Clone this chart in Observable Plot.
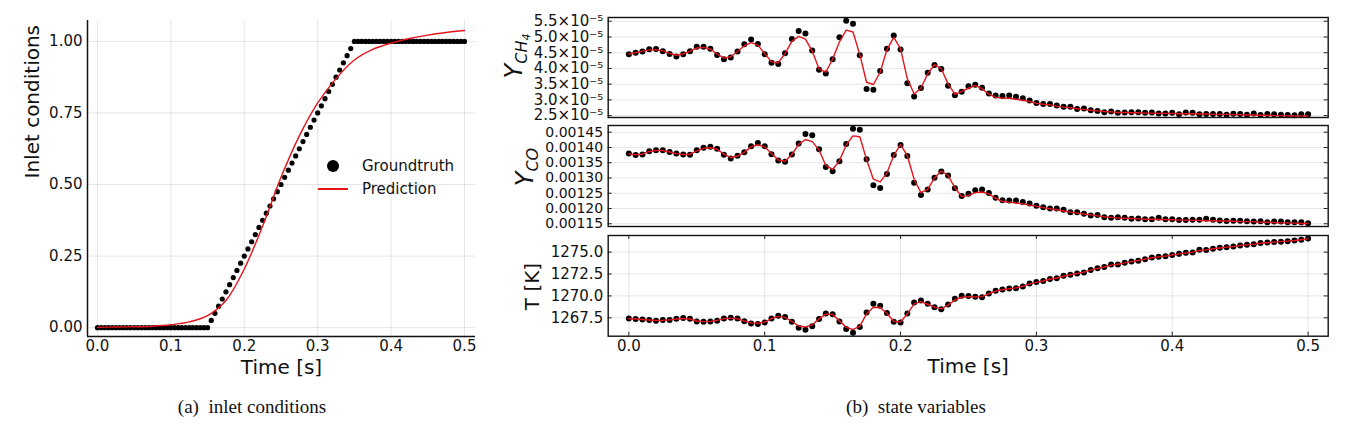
<!DOCTYPE html>
<html>
<head>
<meta charset="utf-8">
<script src="https://cdn.jsdelivr.net/npm/d3@7"></script>
<script src="https://cdn.jsdelivr.net/npm/@observablehq/plot@0.6"></script>
<style>
  html, body { margin: 0; padding: 0; background: #fff; }
  #wrap { position: relative; width: 1347px; height: 427px; overflow: hidden; background: #fff; font-family: "DejaVu Sans", sans-serif; }
  #wrap svg { position: absolute; overflow: visible; }
  .cap { position: absolute; font-family: "Liberation Serif", "Times New Roman", serif; font-size: 19px; color: #111; transform: translate(-50%, -50%); white-space: nowrap; }
  .leg { position: absolute; font-family: "DejaVu Sans", sans-serif; font-size: 15px; color: #111; }
</style>
</head>
<body>
<div id="wrap"></div>
<script>
// ---------- DATA ----------
// sample times [s]
const time = [0,0.005,0.01,0.015,0.02,0.025,0.03,0.035,0.04,0.045,0.05,0.055,0.06,0.065,0.07,0.075,0.08,0.085,0.09,0.095,
  0.1,0.105,0.11,0.115,0.12,0.125,0.13,0.135,0.14,0.145,0.15,0.155,0.16,0.165,0.17,0.175,0.18,0.185,0.19,0.195,
  0.2,0.205,0.21,0.215,0.22,0.225,0.23,0.235,0.24,0.245,0.25,0.255,0.26,0.265,0.27,0.275,0.28,0.285,0.29,0.295,
  0.3,0.305,0.31,0.315,0.32,0.325,0.33,0.335,0.34,0.345,0.35,0.355,0.36,0.365,0.37,0.375,0.38,0.385,0.39,0.395,
  0.4,0.405,0.41,0.415,0.42,0.425,0.43,0.435,0.44,0.445,0.45,0.455,0.46,0.465,0.47,0.475,0.48,0.485,0.49,0.495,0.5];

// (a) inlet conditions – groundtruth
const inletTruth = [0,0,0,0,0,0,0,0,0,0,0,0,0,0,0,0,0,0,0,0,0,0,0,0,0,0,0,0,0,0,0,
  0.025,0.05,0.075,0.1,0.125,0.15,0.175,0.2,0.225,0.25,0.275,0.3,0.325,0.35,0.375,0.4,0.425,0.45,0.475,0.5,
  0.525,0.55,0.575,0.6,0.625,0.65,0.675,0.7,0.725,0.75,0.775,0.8,0.825,0.85,0.875,0.9,0.925,0.95,0.975,
  1,1,1,1,1,1,1,1,1,1,1,1,1,1,1,1,1,1,1,1,1,1,1,1,1,1,1,1,1,1,1];
// (a) inlet conditions – prediction
const inletPredTime = [0,0.025,0.05,0.075,0.1,0.125,0.15,0.175,0.2,0.225,0.25,0.275,0.3,0.325,0.35,0.375,0.4,0.425,0.45,0.475,0.5];
const inletPred = [0.001,0.002,0.003,0.005,0.01,0.02,0.042,0.095,0.205,0.355,0.525,0.67,0.785,0.87,0.935,0.972,0.994,1.01,1.022,1.031,1.038];

// (b) Y_CH4 (units of 1e-5)
const ch4Truth = [4.45,4.50,4.54,4.61,4.62,4.55,4.46,4.38,4.45,4.55,4.69,4.69,4.63,4.43,4.29,4.35,4.54,4.77,4.92,4.78,
  4.45,4.18,4.14,4.48,4.94,5.19,5.11,4.57,3.96,3.84,4.29,4.99,5.52,5.42,4.42,3.35,3.32,3.92,4.63,5.05,
  4.60,3.53,3.11,3.38,3.86,4.11,3.98,3.45,3.15,3.26,3.43,3.48,3.39,3.20,3.14,3.12,3.14,3.10,3.05,2.98,
  2.90,2.87,2.87,2.82,2.78,2.78,2.71,2.73,2.67,2.65,2.61,2.63,2.59,2.60,2.61,2.61,2.59,2.60,2.57,2.57,
  2.59,2.54,2.60,2.59,2.54,2.55,2.55,2.55,2.53,2.56,2.55,2.53,2.57,2.52,2.55,2.54,2.53,2.52,2.51,2.54,2.54];
const ch4Pred = [4.46,4.50,4.55,4.59,4.60,4.56,4.48,4.42,4.46,4.55,4.65,4.67,4.62,4.46,4.33,4.37,4.54,4.72,4.82,4.74,
  4.47,4.21,4.18,4.47,4.86,5.02,4.93,4.55,3.99,3.88,4.30,4.84,5.22,5.16,4.44,3.56,3.49,3.88,4.60,4.99,
  4.63,3.67,3.19,3.37,3.83,4.12,3.99,3.51,3.18,3.27,3.37,3.46,3.35,3.18,3.08,3.06,3.05,3.02,2.99,2.95,
  2.89,2.86,2.84,2.80,2.77,2.75,2.72,2.70,2.67,2.65,2.63,2.62,2.60,2.60,2.59,2.59,2.58,2.58,2.57,2.57,
  2.57,2.56,2.56,2.56,2.55,2.55,2.54,2.54,2.54,2.53,2.53,2.52,2.52,2.51,2.51,2.50,2.50,2.49,2.49,2.49,2.49];

// (b) Y_CO (units of 1e-3)
const coTruth = [1.380,1.375,1.377,1.388,1.391,1.391,1.385,1.380,1.377,1.376,1.391,1.399,1.402,1.396,1.376,1.364,1.373,1.384,1.404,1.415,
  1.404,1.378,1.357,1.353,1.377,1.413,1.444,1.440,1.394,1.336,1.322,1.355,1.411,1.461,1.458,1.361,1.276,1.267,1.313,1.375,
  1.408,1.372,1.284,1.244,1.262,1.301,1.321,1.308,1.266,1.241,1.248,1.260,1.262,1.251,1.235,1.227,1.226,1.226,1.221,1.216,
  1.209,1.204,1.200,1.200,1.196,1.188,1.188,1.183,1.177,1.179,1.171,1.170,1.171,1.170,1.166,1.167,1.165,1.165,1.170,1.165,
  1.165,1.162,1.162,1.163,1.163,1.166,1.163,1.161,1.159,1.160,1.160,1.158,1.157,1.158,1.155,1.157,1.157,1.155,1.155,1.155,1.152];
const coPred = [1.379,1.376,1.378,1.387,1.390,1.390,1.385,1.380,1.377,1.377,1.389,1.397,1.399,1.394,1.378,1.367,1.372,1.384,1.402,1.409,
  1.402,1.380,1.359,1.355,1.377,1.410,1.426,1.419,1.392,1.341,1.328,1.356,1.408,1.438,1.435,1.360,1.296,1.287,1.317,1.374,
  1.409,1.373,1.296,1.252,1.263,1.300,1.323,1.308,1.268,1.239,1.243,1.252,1.254,1.248,1.233,1.223,1.221,1.218,1.215,1.211,
  1.207,1.203,1.199,1.196,1.192,1.188,1.185,1.182,1.179,1.176,1.173,1.171,1.169,1.168,1.167,1.166,1.165,1.165,1.164,1.164,
  1.163,1.162,1.162,1.161,1.161,1.160,1.160,1.159,1.159,1.158,1.157,1.157,1.156,1.155,1.155,1.154,1.153,1.153,1.152,1.151,1.151];

// (b) T [K]
const tempTruth = [1267.43,1267.35,1267.31,1267.24,1267.16,1267.24,1267.24,1267.39,1267.47,1267.39,1267.09,1267.05,1267.09,1267.16,1267.43,1267.50,1267.43,1267.12,1266.86,1266.78,
  1266.97,1267.43,1267.73,1267.58,1267.05,1266.36,1266.13,1266.55,1267.35,1268.00,1267.92,1267.09,1266.21,1265.79,1266.44,1268.11,1269.10,1268.87,1268.04,1267.05,
  1266.97,1268.00,1269.25,1269.48,1269.10,1268.72,1268.49,1269.03,1269.67,1270.01,1269.98,1269.90,1269.86,1270.28,1270.59,1270.74,1270.85,1270.89,1271.08,1271.42,
  1271.58,1271.69,1271.92,1272.03,1272.30,1272.41,1272.56,1272.68,1272.95,1273.17,1273.29,1273.59,1273.59,1273.78,1273.93,1274.01,1274.20,1274.39,1274.47,1274.54,
  1274.66,1274.81,1274.92,1274.96,1275.27,1275.23,1275.38,1275.49,1275.57,1275.65,1275.76,1275.84,1275.91,1276.03,1276.10,1276.16,1276.20,1276.24,1276.32,1276.42,1276.56];
const tempPred = [1267.40,1267.36,1267.31,1267.25,1267.20,1267.22,1267.26,1267.36,1267.42,1267.36,1267.14,1267.06,1267.09,1267.20,1267.40,1267.46,1267.38,1267.14,1266.92,1266.88,
  1267.02,1267.42,1267.66,1267.55,1267.08,1266.56,1266.45,1266.70,1267.38,1267.92,1267.88,1267.15,1266.42,1266.15,1266.55,1267.95,1268.70,1268.68,1268.00,1267.10,
  1267.02,1267.95,1269.10,1269.35,1269.05,1268.72,1268.52,1268.95,1269.55,1269.85,1269.92,1269.88,1269.92,1270.25,1270.55,1270.70,1270.82,1270.92,1271.10,1271.38,
  1271.55,1271.70,1271.90,1272.05,1272.25,1272.42,1272.56,1272.72,1272.94,1273.14,1273.30,1273.52,1273.62,1273.78,1273.92,1274.04,1274.20,1274.36,1274.46,1274.55,
  1274.67,1274.80,1274.90,1275.00,1275.18,1275.26,1275.38,1275.48,1275.57,1275.65,1275.75,1275.83,1275.91,1276.01,1276.08,1276.14,1276.20,1276.26,1276.33,1276.42,1276.52];

// tick values
const timeTicks = [0, 0.1, 0.2, 0.3, 0.4, 0.5];
const inletTicks = [0, 0.25, 0.5, 0.75, 1.0];
const ch4Ticks = [2.5, 3.0, 3.5, 4.0, 4.5, 5.0, 5.5];          // ×1e-5
const coTicks = [0.00115, 0.00120, 0.00125, 0.00130, 0.00135, 0.00140, 0.00145];
const tempTicks = [1267.5, 1270.0, 1272.5, 1275.0];

// ---------- STYLE ----------
const RED = "#e3141c";
const GRID = {stroke: "#000", strokeOpacity: 0.1, strokeWidth: 1};
const baseStyle = {fontFamily: "DejaVu Sans, sans-serif", fontSize: "15px", background: "transparent", color: "#111", overflow: "visible"};
const wrap = document.getElementById("wrap");

function place(svg, left, top) {
  svg.style.left = left + "px";
  svg.style.top = top + "px";
  wrap.appendChild(svg);
  return svg;
}

// ---------- (a) inlet conditions ----------
const inletRows = time.map((t, i) => ({t, v: inletTruth[i]}));
const inletPredRows = inletPredTime.map((t, i) => ({t, v: inletPred[i]}));
const xDomA = [-0.0136, 0.515], yDomA = [-0.031, 1.073];
const plotA = Plot.plot({
  width: 480, height: 385,
  marginLeft: 87, marginRight: 5, marginTop: 20, marginBottom: 49,
  style: baseStyle,
  x: {domain: xDomA},
  y: {domain: yDomA},
  marks: [
    Plot.gridX(timeTicks, GRID),
    Plot.gridY(inletTicks, GRID),
    Plot.axisX({ticks: timeTicks, tickFormat: d3.format(".1f"), tickSize: 0, tickPadding: 4, label: null}),
    Plot.axisY({ticks: inletTicks, tickFormat: d3.format(".2f"), tickSize: 0, tickPadding: 5, label: null}),
    Plot.ruleX([xDomA[0]], {stroke: "#111", strokeWidth: 1.5}),
    Plot.ruleY([yDomA[0]], {stroke: "#111", strokeWidth: 1.5}),
    Plot.dot(inletRows, {x: "t", y: "v", r: 2.6, fill: "#000", stroke: "none"}),
    Plot.line(inletPredRows, {x: "t", y: "v", stroke: RED, strokeWidth: 1.4, curve: "catmull-rom"}),
    Plot.text(["Time [s]"], {frameAnchor: "bottom", dy: 37, fontSize: 20, fill: "#111"}),
    Plot.text(["Inlet conditions"], {frameAnchor: "left", dx: -55, rotate: -90, fontSize: 20, fill: "#111"})
  ]
});
place(plotA, 0, 0);

// legend (HTML)
function legEl(html, css) { const d = document.createElement("div"); d.className = "leg"; d.innerHTML = html; Object.assign(d.style, css); wrap.appendChild(d); }
legEl("", {left: "327px", top: "160px", width: "12px", height: "12px", borderRadius: "50%", background: "#000"});
legEl("Groundtruth", {left: "362px", top: "156px", lineHeight: "20px"});
legEl("", {left: "318px", top: "188px", width: "30px", height: "1.6px", background: RED});
legEl("Prediction", {left: "362px", top: "179px", lineHeight: "20px"});

// ---------- (b) state variables ----------
const xDomB = [-0.0152, 0.5148];
const W_B = 857, ML_B = 117.7, MR_B = 19.3;
const FRAME_W = W_B - ML_B - MR_B;
const TICK_LEN = 4;

function statePanel({truth, pred, scale, yDomain, yTicks, yFormat, tickFont, height, mt, mb, bottom}) {
  const rowsT = time.map((t, i) => ({t, v: truth[i] * scale}));
  const rowsP = time.map((t, i) => ({t, v: pred[i] * scale}));
  const frameH = height - mt - mb;
  const tk = {stroke: "#222", strokeWidth: 1};
  const marks = [
    Plot.gridY(yTicks, GRID),
    Plot.tickY(yTicks, {...tk, insetLeft: FRAME_W - TICK_LEN}),
    Plot.tickY(yTicks, {...tk, insetRight: FRAME_W - TICK_LEN}),
    Plot.axisY({ticks: yTicks, tickFormat: yFormat, tickSize: 0, tickPadding: 5, label: null, fontSize: tickFont}),
    Plot.dot(rowsT, {x: "t", y: "v", r: 3, fill: "#000", stroke: "none"}),
    Plot.line(rowsP, {x: "t", y: "v", stroke: RED, strokeWidth: 1.4}),
    Plot.frame({stroke: "#111", strokeWidth: 1.4})
  ];
  if (bottom) {
    marks.unshift(Plot.gridX(timeTicks, GRID));
    marks.push(Plot.tickX(timeTicks, {...tk, insetTop: frameH - TICK_LEN}));
    marks.push(Plot.tickX(timeTicks, {...tk, insetBottom: frameH - TICK_LEN}));
    marks.push(Plot.axisX({ticks: timeTicks, tickFormat: d3.format(".1f"), tickSize: 0, tickPadding: 4, label: null}));
    marks.push(Plot.text(["Time [s]"], {frameAnchor: "bottom", dy: 37, fontSize: 20, fill: "#111"}));
  }
  return Plot.plot({
    width: W_B, height,
    marginLeft: ML_B, marginRight: MR_B, marginTop: mt, marginBottom: mb,
    style: baseStyle,
    x: {domain: xDomB, axis: null},
    y: {domain: yDomain, axis: null},
    marks
  });
}

function subLabel(svg, x, y, main, sub, sub2) {
  const t = d3.select(svg).append("text")
    .attr("transform", `translate(${x},${y}) rotate(-90)`)
    .attr("text-anchor", "middle")
    .attr("font-family", "DejaVu Sans, sans-serif")
    .attr("font-size", 24).attr("fill", "#111");
  t.append("tspan").attr("font-style", "italic").text(main);
  t.append("tspan").attr("font-style", "italic").attr("font-size", 16).attr("dy", 5).text(sub);
  if (sub2) t.append("tspan").attr("font-style", "italic").attr("font-size", 11).attr("dy", 3).text(sub2);
}

const pCH4 = statePanel({
  truth: ch4Truth, pred: ch4Pred, scale: 1e-5,
  yDomain: [2.44e-5, 5.62e-5], yTicks: ch4Ticks.map(d => d * 1e-5),
  yFormat: d => `${(d * 1e5).toFixed(1)}×10⁻⁵`, tickFont: 15,
  height: 120, mt: 17, mb: 3
});
subLabel(pCH4, 32, 56, "Y", "CH", "4");
place(pCH4, 490, 0);

const pCO = statePanel({
  truth: coTruth, pred: coPred, scale: 1e-3,
  yDomain: [0.001141, 0.001472], yTicks: coTicks,
  yFormat: d3.format(".5f"), tickFont: 14,
  height: 110, mt: 5, mb: 4
});
subLabel(pCO, 43, 47, "Y", "CO", null);
place(pCO, 490, 120);

const pT = statePanel({
  truth: tempTruth, pred: tempPred, scale: 1,
  yDomain: [1265.4, 1276.9], yTicks: tempTicks,
  yFormat: d3.format(".1f"), tickFont: 15,
  height: 155, mt: 5, mb: 49.3, bottom: true
});
d3.select(pT).append("text")
  .attr("transform", "translate(43.5,56.5) rotate(-90)")
  .attr("text-anchor", "middle").attr("dominant-baseline", "middle")
  .attr("font-family", "DejaVu Sans, sans-serif").attr("font-size", 20).attr("fill", "#111")
  .text("T [K]");
place(pT, 490, 230);

// captions
function cap(text, x, y) { const d = document.createElement("div"); d.className = "cap"; d.textContent = text; d.style.left = x + "px"; d.style.top = y + "px"; wrap.appendChild(d); }
cap("(a)\u2002inlet conditions", 252, 407);
cap("(b)\u2002state variables", 916, 407);
</script>
</body>
</html>
